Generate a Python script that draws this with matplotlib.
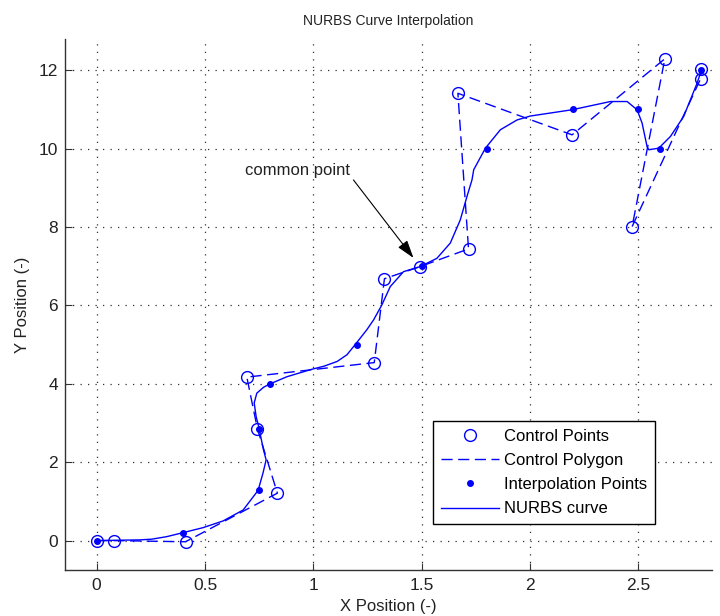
import numpy as np
import matplotlib.pyplot as plt

plt.rcParams['font.family'] = ['Liberation Sans', 'DejaVu Sans']
plt.rcParams['font.size'] = 10

# control points
ctrl_x = [0.0, 0.08, 0.41, 0.834, 0.742, 0.693, 1.281, 1.328, 1.493, 1.716,
          1.667, 2.194, 2.622, 2.471, 2.787, 2.79]
ctrl_y = [0.0, 0.0, -0.03, 1.21, 2.85, 4.17, 4.54, 6.68, 6.99, 7.44,
          11.41, 10.35, 12.29, 8.01, 11.78, 12.03]

# interpolation points
interp_x = [0.0, 0.4, 0.75, 0.75, 0.8, 1.2, 1.5, 1.8, 2.2, 2.5, 2.6, 2.79]
interp_y = [0.0, 0.2, 1.28, 2.84, 4.0, 5.0, 7.0, 10.0, 11.0, 11.0, 10.0, 12.0]

# NURBS curve
curve_x = [0.0, 0.2, 0.254, 0.323, 0.397, 0.491, 0.583, 0.676, 0.745, 0.768,
           0.782, 0.77, 0.754, 0.751, 0.736, 0.727, 0.739, 0.77, 0.797, 0.878,
           0.993, 1.05, 1.11, 1.155, 1.196, 1.247, 1.278, 1.316, 1.355, 1.416,
           1.493, 1.57, 1.632, 1.678, 1.709, 1.732, 1.74, 1.794, 1.863, 1.94,
           2.001, 2.194, 2.371, 2.448, 2.494, 2.517, 2.54, 2.548, 2.594, 2.648,
           2.709, 2.771, 2.79]
curve_y = [0.0, 0.018, 0.036, 0.1, 0.2, 0.33, 0.5, 0.78, 1.28, 1.73,
           2.06, 2.31, 2.74, 2.84, 3.16, 3.51, 3.76, 3.91, 3.99, 4.18,
           4.37, 4.45, 4.57, 4.74, 5.02, 5.38, 5.63, 6.01, 6.48, 6.86,
           6.99, 7.2, 7.59, 8.18, 8.78, 9.2, 9.46, 10.01, 10.48, 10.73,
           10.83, 10.99, 11.2, 11.2, 10.99, 10.65, 10.05, 9.97, 10.01, 10.31,
           10.82, 11.67, 11.99]

blue = (0, 0, 1)
txt = '#222222'

fig = plt.figure(figsize=(7.2, 6.16), dpi=100)
ax = fig.add_axes([0.0903, 0.0747, 0.8987, 0.8623])

ax.plot(ctrl_x, ctrl_y, 'o', color=blue, mfc='none', ms=8.5, mew=1.0,
        label='Control Points')
ax.plot(ctrl_x, ctrl_y, '--', color=blue, lw=1.0, dashes=(8, 4),
        label='Control Polygon')
ax.plot(interp_x, interp_y, '.', color=blue, ms=8, label='Interpolation Points')
ax.plot(curve_x, curve_y, '-', color=blue, lw=1.0, label='NURBS curve')

# annotation
ax.text(0.685, 9.43, 'common point', ha='left', va='center', color=txt,
        fontsize=12)
ax.annotate('', xy=(1.462, 7.21), xytext=(1.185, 9.2),
            arrowprops=dict(arrowstyle='-|>,head_length=1.1,head_width=0.35',
                            color='black', lw=0.8, shrinkA=0, shrinkB=0))

ax.set_xlim(-0.146, 2.84)
ax.set_ylim(-0.75, 12.8)
ax.set_xticks([0, 0.5, 1, 1.5, 2, 2.5])
ax.set_xticklabels(['0', '0.5', '1', '1.5', '2', '2.5'])
ax.set_yticks([0, 2, 4, 6, 8, 10, 12])

ax.grid(True, color='#333333', linestyle=(0, (1, 5)), lw=0.9)
ax.spines['top'].set_visible(False)
ax.spines['right'].set_visible(False)
for s in ['left', 'bottom']:
    ax.spines[s].set_color('#333333')
    ax.spines[s].set_linewidth(1.0)
ax.tick_params(direction='in', length=5, colors='#333333', labelcolor=txt,
               labelsize=12.5)
ax.tick_params(axis='x', pad=6)
ax.tick_params(axis='y', pad=5)

ax.set_title('NURBS Curve Interpolation', fontsize=10, color=txt, pad=10)
ax.set_xlabel('X Position (-)', fontsize=12, color=txt, labelpad=4)
ax.set_ylabel('Y Position (-)', fontsize=12, color=txt, labelpad=6)

leg = ax.legend(loc='lower left', bbox_to_anchor=(0.569, 0.0866),
                fancybox=False, framealpha=1, edgecolor='black',
                handlelength=3.5, labelspacing=0.55, borderpad=0.45,
                handletextpad=0.3, fontsize=12, borderaxespad=0)
leg.get_frame().set_linewidth(1.0)

fig.savefig('out.png', dpi=100)
